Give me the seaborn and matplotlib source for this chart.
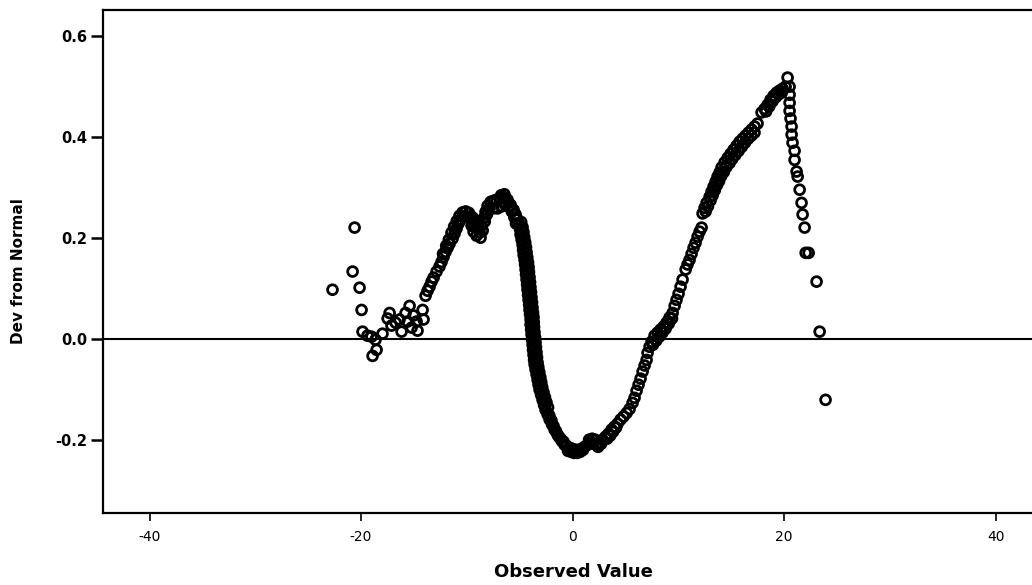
import numpy as np
import pandas as pd
import matplotlib
matplotlib.use("Agg")
import matplotlib.pyplot as plt
import seaborn as sns

# detrended normal Q-Q plot

# scattered points of the left tail
left_obs = [-22.70, -20.80, -20.61, -20.14, -19.95, -19.86, -19.39, -19.01, -18.63,
            -18.53, -18.91, -17.97, -17.49, -17.30, -17.12, -16.74, -16.36, -16.17,
            -15.79, -15.60, -15.41, -15.22, -15.04, -14.75, -14.66, -14.18, -14.09]
left_dev = [0.097, 0.133, 0.220, 0.101, 0.057, 0.014, 0.006, 0.004, -0.002,
            -0.022, -0.034, 0.010, 0.040, 0.051, 0.026, 0.032, 0.038, 0.014,
            0.051, 0.034, 0.065, 0.022, 0.046, 0.034, 0.016, 0.057, 0.038]

# rise to the first hump
hump_obs = [-13.90, -13.71, -13.52, -13.33, -13.14, -12.86, -12.58, -12.39, -12.20,
            -12.01, -11.82, -11.63, -11.35, -11.16, -10.97, -10.78, -10.59, -10.31,
            -10.02, -9.74, -9.46, -9.55, -9.36, -9.17, -9.08, -8.89, -8.79, -8.61,
            -8.42, -8.23, -8.04, -7.75, -7.47, -7.19, -6.90, -6.62, -6.34,
            -12.25, -11.95, -11.70, -11.45, -11.20, -10.95, -10.70, -10.40, -10.10,
            -9.80, -9.30, -9.00, -8.70, -8.50, -8.30, -8.10, -7.85, -7.50, -7.10,
            -6.75, -6.45, -6.70, -6.40, -6.00, -5.75, -5.50, -5.35]
hump_dev = [0.085, 0.095, 0.103, 0.113, 0.121, 0.133, 0.143, 0.152, 0.162,
            0.172, 0.180, 0.188, 0.198, 0.208, 0.218, 0.228, 0.236, 0.242,
            0.242, 0.238, 0.240, 0.224, 0.212, 0.232, 0.204, 0.232, 0.210, 0.224,
            0.238, 0.251, 0.263, 0.271, 0.273, 0.275, 0.277, 0.279, 0.279,
            0.168, 0.184, 0.196, 0.210, 0.222, 0.233, 0.243, 0.250, 0.252,
            0.249, 0.222, 0.220, 0.200, 0.214, 0.232, 0.246, 0.258, 0.258, 0.258,
            0.284, 0.286, 0.262, 0.266, 0.262, 0.252, 0.240, 0.228]

# steep drop after the hump
drop_obs = [-6.15, -5.86, -5.58, -5.39, -5.20, -5.11, -4.96, -4.92, -4.82, -4.73,
            -4.68, -4.63, -4.54, -4.49, -4.44, -4.40, -4.35, -4.30, -4.26, -4.21,
            -4.16, -4.11, -4.07, -4.02, -3.97, -3.97, -3.92, -3.88, -3.83, -3.78,
            -3.74, -3.69, -3.64, -3.59, -3.50, -3.40, -3.31, -3.22, -3.12, -2.98,
            -2.84, -2.70, -2.55, -2.36, -2.17, -1.94, -1.70, -1.42, -1.13, -0.85,
            -4.86, -4.73, -4.64, -4.57, -4.48, -4.40, -4.35, -4.28, -4.21, -4.16,
            -4.12, -4.07, -4.02, -3.98, -3.93, -3.88, -3.83, -3.79, -3.74, -3.69,
            -3.67, -3.64, -3.60, -3.55, -3.50, -3.46, -3.41, -3.36, -3.31, -3.24,
            -3.15, -3.05, -2.96, -2.87, -2.75, -2.61, -2.47, -2.32, -2.20, -2.00,
            -1.80, -1.57, -1.30, -1.00, -0.75]
drop_dev = [0.275, 0.265, 0.255, 0.246, 0.236, 0.226, 0.216, 0.206, 0.196, 0.186,
            0.176, 0.166, 0.156, 0.147, 0.137, 0.127, 0.117, 0.107, 0.097, 0.087,
            0.077, 0.067, 0.057, 0.048, 0.038, 0.028, 0.018, 0.008, -0.002, -0.012,
            -0.022, -0.032, -0.042, -0.051, -0.061, -0.071, -0.081, -0.091, -0.101, -0.111,
            -0.121, -0.131, -0.141, -0.150, -0.160, -0.170, -0.180, -0.190, -0.198, -0.204,
            0.231, 0.221, 0.211, 0.201, 0.191, 0.181, 0.171, 0.161, 0.151, 0.142,
            0.132, 0.122, 0.112, 0.102, 0.092, 0.082, 0.072, 0.062, 0.052, 0.043,
            0.033, 0.023, 0.013, 0.003, -0.007, -0.017, -0.027, -0.037, -0.047, -0.056,
            -0.066, -0.076, -0.086, -0.096, -0.106, -0.116, -0.126, -0.136, -0.152, -0.162,
            -0.173, -0.183, -0.194, -0.203, -0.210]

# trough around zero
trough_obs = [-0.57, -0.28, 0.00, 0.28, 0.57, 0.85, 1.13, 1.42, 1.70, 1.99,
              2.27, 2.55, 2.84, 3.12, 3.40, 3.69, 3.97, 4.26, 4.54,
              -0.43, -0.14, 0.14, 0.43, 0.71, 0.99, 1.56, 1.85, 2.13, 2.41,
              2.70, 3.26, 3.55, 3.83, 4.11]
trough_dev = [-0.212, -0.216, -0.218, -0.220, -0.220, -0.218, -0.214, -0.210, -0.206, -0.208,
              -0.210, -0.206, -0.200, -0.194, -0.188, -0.180, -0.174, -0.168, -0.160,
              -0.222, -0.224, -0.226, -0.226, -0.224, -0.220, -0.200, -0.198, -0.200, -0.214,
              -0.208, -0.198, -0.192, -0.184, -0.176]

# long rise up to the maximum
rise_obs = [4.82, 5.11, 5.39, 5.67, 5.86, 6.05, 6.24, 6.43, 6.62, 6.81,
            7.00, 7.09, 7.28, 7.47, 7.75, 8.04, 8.32, 8.61, 8.89, 9.17,
            9.46, 9.65, 9.83, 10.02, 10.21, 10.40, 10.69, 10.87, 11.06, 11.25,
            11.44, 11.63, 11.82, 12.01, 12.20, 12.29, 12.48, 12.67, 12.96, 13.14,
            13.33, 13.52, 13.71, 13.90, 14.09, 14.37, 14.66, 14.94, 15.22, 15.51,
            15.79, 16.08, 16.36, 16.64, 16.93, 17.21, 17.49, 17.87, 18.16, 18.44,
            18.72, 19.01, 19.29, 19.57, 19.86, 20.14, 20.33,
            7.60, 7.90, 8.20, 8.50, 8.80, 9.10, 9.40,
            12.58, 12.80, 13.05, 13.25, 13.45, 13.65, 13.85, 14.05, 14.30, 14.55,
            14.85, 15.10, 15.40, 15.70, 16.00, 16.30, 16.60, 16.90, 17.20,
            18.30, 18.60, 18.90, 19.20, 19.50, 19.80]
rise_dev = [-0.154, -0.147, -0.139, -0.127, -0.117, -0.103, -0.091, -0.079, -0.065, -0.053,
            -0.042, -0.028, -0.016, -0.006, 0.006, 0.012, 0.018, 0.024, 0.032, 0.042,
            0.051, 0.065, 0.077, 0.089, 0.103, 0.117, 0.137, 0.147, 0.156, 0.168,
            0.180, 0.190, 0.202, 0.212, 0.220, 0.248, 0.259, 0.269, 0.281, 0.291,
            0.301, 0.311, 0.321, 0.329, 0.339, 0.349, 0.358, 0.366, 0.374, 0.382,
            0.390, 0.396, 0.402, 0.408, 0.414, 0.420, 0.426, 0.448, 0.455, 0.463,
            0.473, 0.481, 0.487, 0.491, 0.495, 0.499, 0.517,
            -0.012, -0.004, 0.004, 0.012, 0.020, 0.030, 0.040,
            0.252, 0.262, 0.274, 0.284, 0.294, 0.304, 0.312, 0.322, 0.330, 0.340,
            0.348, 0.356, 0.364, 0.372, 0.380, 0.388, 0.396, 0.402, 0.408,
            0.450, 0.460, 0.470, 0.478, 0.484, 0.488]

# right tail falling back below zero
right_obs = [20.52, 20.52, 20.52, 20.52, 20.61, 20.71, 20.71, 20.80, 20.99, 20.99,
             21.18, 21.28, 21.47, 21.65, 21.75, 21.94, 22.04, 22.32, 23.07, 23.36, 23.92]
right_dev = [0.499, 0.483, 0.467, 0.451, 0.436, 0.420, 0.404, 0.388, 0.372, 0.354,
             0.331, 0.321, 0.295, 0.269, 0.246, 0.220, 0.170, 0.170, 0.113, 0.014, -0.121]

df = pd.DataFrame({
    "obs": left_obs + hump_obs + drop_obs + trough_obs + rise_obs + right_obs,
    "dev": left_dev + hump_dev + drop_dev + trough_dev + rise_dev + right_dev,
})

sns.set_style("ticks")
plt.rcParams["font.family"] = ["DejaVu Sans"]
plt.rcParams["axes.unicode_minus"] = False
plt.rcParams["text.color"] = "black"
plt.rcParams["axes.labelcolor"] = "black"

fig = plt.figure(figsize=(10.32, 5.85), dpi=100)
ax = fig.add_axes([0.0998, 0.1231, 0.908, 0.860])

sns.scatterplot(data=df, x="obs", y="dev", ax=ax, marker="o", s=50,
                facecolors="none", edgecolor="black", linewidth=2.0, zorder=3)
ax.axhline(0, color="black", lw=1.5, zorder=1)

ax.set_xlim(-44.4, 44.2)
ax.set_ylim(-0.345, 0.651)
ax.set_xticks([-40, -20, 0, 20, 40])
ax.set_yticks([-0.2, 0.0, 0.2, 0.4, 0.6])
ax.set_yticklabels(["-0.2", "0.0", "0.2", "0.4", "0.6"], fontweight="bold")

for side in ["left", "bottom", "top"]:
    ax.spines[side].set_linewidth(1.6)
    ax.spines[side].set_color("black")
ax.spines["right"].set_visible(False)

ax.tick_params(axis="y", direction="out", length=9, width=1.8, labelsize=10.5, pad=2, colors="black")
ax.tick_params(axis="x", direction="out", length=6, width=1.2, labelsize=10, pad=6, colors="black")

ax.set_xlabel("Observed Value", fontsize=13, fontweight="bold")
ax.set_ylabel("Dev from Normal", fontsize=11, fontweight="bold")
ax.xaxis.set_label_coords(0.5016, -0.10)
ax.yaxis.set_label_coords(-0.082, 0.48)

fig.savefig("out.png", dpi=100)
